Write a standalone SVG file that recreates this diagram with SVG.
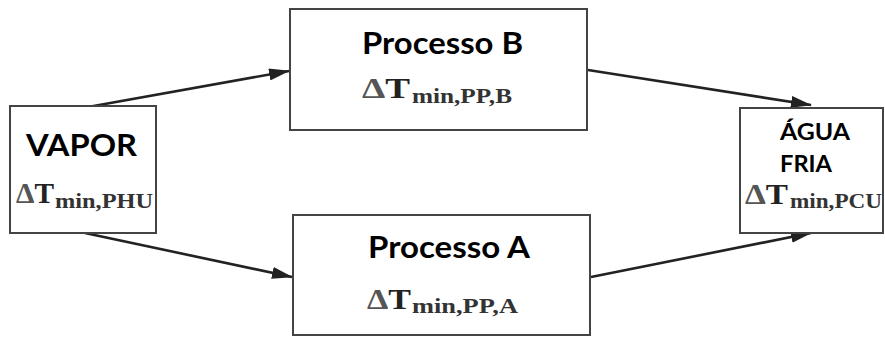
<svg xmlns="http://www.w3.org/2000/svg" width="885" height="338" viewBox="0 0 885 338">
  <style>
    .box { fill: #ffffff; stroke: #444444; stroke-width: 2; }
    .edge { fill: none; stroke: #222222; stroke-width: 2.6; }
    .title { font-family: Lato, "Open Sans", "Liberation Sans", sans-serif; font-weight: bold; fill: #000000; }
    .dt { font-family: "Liberation Serif", "DejaVu Serif", serif; font-weight: bold; fill: #222222; }
    .delta { fill: #555555; }
    .sub { font-family: "Liberation Serif", "DejaVu Serif", serif; font-weight: bold; fill: #333333; }
  </style>
  <defs>
    <marker id="arrow" markerUnits="userSpaceOnUse" markerWidth="22" markerHeight="12" refX="20" refY="6" orient="auto">
      <path d="M0,0 L21,6 L0,12 z" fill="#222222"/>
    </marker>
  </defs>

  <rect width="885" height="338" fill="#ffffff"/>

  <g id="connectors">
    <line class="edge" x1="88" y1="107" x2="289" y2="71" marker-end="url(#arrow)"/>
    <line class="edge" x1="85" y1="233" x2="292" y2="277" marker-end="url(#arrow)"/>
    <line class="edge" x1="588" y1="70" x2="811" y2="105" marker-end="url(#arrow)"/>
    <line class="edge" x1="591" y1="277" x2="811" y2="233" marker-end="url(#arrow)"/>
  </g>

  <g id="vapor">
    <rect class="box" x="10" y="106" width="146" height="127"/>
    <text class="title" x="26" y="156" font-size="31" textLength="111" lengthAdjust="spacingAndGlyphs">VAPOR</text>
    <text class="dt" x="16" y="203" font-size="29" textLength="38" lengthAdjust="spacingAndGlyphs"><tspan class="delta">Δ</tspan>T</text>
    <text class="sub" x="55" y="208" font-size="20" textLength="98" lengthAdjust="spacingAndGlyphs">min,PHU</text>
  </g>

  <g id="processo-b">
    <rect class="box" x="290" y="9" width="297" height="121"/>
    <text class="title" x="362" y="54" font-size="30" textLength="161" lengthAdjust="spacingAndGlyphs">Processo B</text>
    <text class="dt" x="362" y="98" font-size="30" textLength="48" lengthAdjust="spacingAndGlyphs"><tspan class="delta">Δ</tspan>T</text>
    <text class="sub" x="412" y="103" font-size="20" textLength="100" lengthAdjust="spacingAndGlyphs">min,PP,B</text>
  </g>

  <g id="processo-a">
    <rect class="box" x="293" y="215" width="297" height="120"/>
    <text class="title" x="368" y="258" font-size="30" textLength="162" lengthAdjust="spacingAndGlyphs">Processo A</text>
    <text class="dt" x="367" y="309" font-size="30" textLength="44" lengthAdjust="spacingAndGlyphs"><tspan class="delta">Δ</tspan>T</text>
    <text class="sub" x="412" y="313" font-size="20" textLength="106" lengthAdjust="spacingAndGlyphs">min,PP,A</text>
  </g>

  <g id="agua-fria">
    <rect class="box" x="740" y="108" width="143" height="125"/>
    <text class="title" x="780" y="140" font-size="22" textLength="70" lengthAdjust="spacingAndGlyphs">ÁGUA</text>
    <text class="title" x="780" y="172" font-size="23" textLength="52" lengthAdjust="spacingAndGlyphs">FRIA</text>
    <text class="dt" x="745" y="204" font-size="29" textLength="43" lengthAdjust="spacingAndGlyphs"><tspan class="delta">Δ</tspan>T</text>
    <text class="sub" x="790" y="208" font-size="20" textLength="92" lengthAdjust="spacingAndGlyphs">min,PCU</text>
  </g>
</svg>
